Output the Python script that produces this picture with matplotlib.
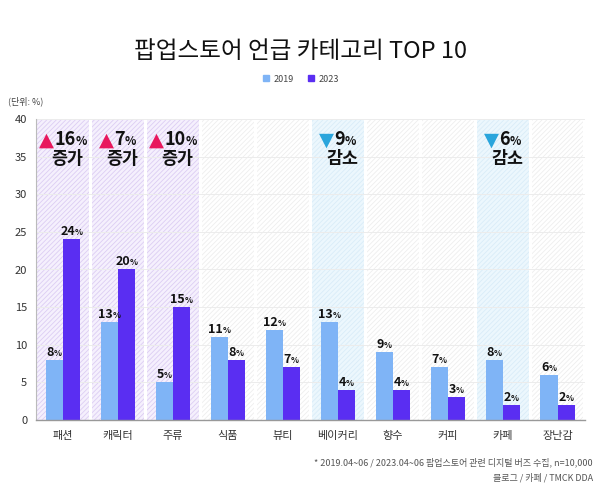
import matplotlib
matplotlib.use("Agg")
import matplotlib.pyplot as plt
from matplotlib.patches import Patch
import numpy as np

plt.rcParams["font.family"] = ["Noto Sans CJK KR", "DejaVu Sans"]
plt.rcParams["hatch.linewidth"] = 0.6

categories = ["패션", "캐릭터", "주류", "식품", "뷰티", "베이커리", "향수", "커피", "카페", "장난감"]
values_2019 = [8, 13, 5, 11, 12, 13, 9, 7, 8, 6]
values_2023 = [24, 20, 15, 8, 7, 4, 4, 3, 2, 2]
band_kind = ["up", "up", "up", "none", "none", "down", "none", "none", "down", "none"]
change_idx = [0, 1, 2, 5, 8]
change_val = [16, 7, 10, 9, 6]
change_word = ["증가", "증가", "증가", "감소", "감소"]

C2019 = "#7fb4f6"
C2023 = "#5a2ef2"
UP = "#e8175d"
DOWN = "#2aa5dc"
DPI = 100
PX2PT = 72 / DPI

fig = plt.figure(figsize=(6.02, 4.90), dpi=DPI)
ax = fig.add_axes([35.5 / 602, 70 / 490, 549.5 / 602, 301 / 490])
x = np.arange(len(categories))

# background bands
band_face = {"up": "#f5f0fd", "down": "#ecf7fd", "none": "white"}
band_hatch = {"up": "#dccdf3", "down": "#d9ecf8", "none": "#eeeeee"}
for i, k in enumerate(band_kind):
    ax.bar(i, 40, width=0.945, color=band_face[k], edgecolor=band_hatch[k],
           hatch="///////", linewidth=0, zorder=0)

for yv in range(5, 41, 5):
    ax.axhline(yv, color="#ececec", lw=0.7, zorder=1)

w = 0.31
ax.bar(x - w / 2, values_2019, width=w, color=C2019, zorder=2)
ax.bar(x + w / 2, values_2023, width=w, color=C2023, zorder=2)

renderer = fig.canvas.get_renderer()


def composite(xc, y, parts, dy, gap=0.0, dx=0):
    """parts: (text, size, color, weight, family) laid out left to right, centred on xc."""
    texts, widths = [], []
    for s, size, color, weight, fam in parts:
        t = ax.annotate(s, (xc, y), xytext=(0, dy), textcoords="offset points",
                        ha="left", va="baseline", fontsize=size, color=color,
                        fontweight=weight, family=fam, zorder=5)
        texts.append(t)
        widths.append(t.get_window_extent(renderer).width * PX2PT)
    total = sum(widths) + gap * (len(parts) - 1)
    cur = -total / 2 + dx
    for t, wd in zip(texts, widths):
        t.set_position((cur, dy))
        cur += wd + gap


NUMF = ["Noto Sans CJK KR"]
for i in range(len(categories)):
    for xv, v in ((x[i] - w / 2, values_2019[i]), (x[i] + w / 2, values_2023[i])):
        composite(xv, v, [(str(v), 9, "#111", "bold", NUMF),
                          ("%", 6, "#111", "bold", NUMF)], 3)

for idx, val, word in zip(change_idx, change_val, change_word):
    mark = "▲" if word == "증가" else "▼"
    mcol = UP if word == "증가" else DOWN
    composite(x[idx], 36.5, [(mark, 14, mcol, "normal", ["DejaVu Sans"]),
                             (str(val), 13, "#111", "heavy", NUMF),
                             ("%", 8.5, "#111", "bold", NUMF)], 0)
    ax.text(x[idx] + 0.08, 34.7, word, ha="center", va="center", fontsize=12.5,
            fontweight="heavy", color="#111", zorder=5)

ax.set_xlim(-0.5, len(categories) - 0.5)
ax.set_ylim(0, 40)
ax.set_yticks(range(0, 41, 5))
ax.set_xticks(x)
ax.set_xticklabels(categories)
ax.tick_params(axis="both", length=0, labelsize=8, colors="#333")
ax.tick_params(axis="y", pad=6)
ax.tick_params(axis="x", pad=8)
for s in ("top", "right"):
    ax.spines[s].set_visible(False)
ax.spines["left"].set_color("#bbbbbb")
ax.spines["bottom"].set_color("#999999")
ax.spines["left"].set_linewidth(0.8)
ax.spines["bottom"].set_linewidth(1.0)

fig.text(0.5, 1 - 52 / 490, "팝업스토어 언급 카테고리 TOP 10", ha="center", va="center",
         fontsize=17, color="#111")
handles = [Patch(color=C2019, label="2019"), Patch(color=C2023, label="2023")]
fig.legend(handles=handles, loc="center", bbox_to_anchor=(0.5, 1 - 79 / 490), ncol=2,
           frameon=False, fontsize=6.5, handlelength=0.7, handleheight=0.7,
           handletextpad=0.5, columnspacing=1.5, labelcolor="#444")
fig.text(8 / 602, 1 - 101 / 490, "(단위: %)", ha="left", va="center", fontsize=6.5, color="#444")
fig.text(593 / 602, 1 - 462 / 490, "* 2019.04~06 / 2023.04~06 팝업스토어 관련 디지털 버즈 수집, n=10,000",
         ha="right", va="center", fontsize=6.5, color="#555")
fig.text(593 / 602, 1 - 478 / 490, "블로그 / 카페 / TMCK DDA", ha="right", va="center",
         fontsize=6.5, color="#555")

fig.savefig("out.png", dpi=DPI)
